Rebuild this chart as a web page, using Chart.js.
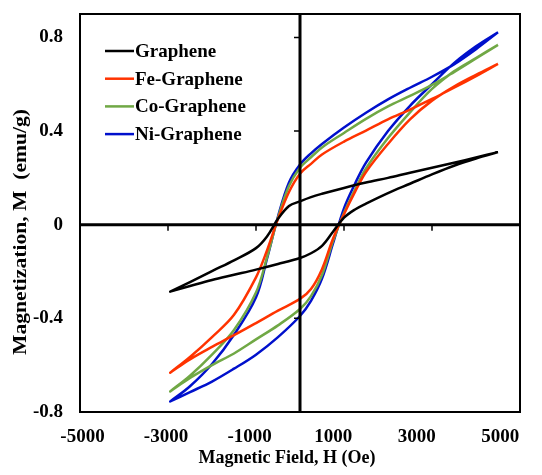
<!DOCTYPE html>
<html>
<head>
<meta charset="utf-8">
<script src="https://cdn.jsdelivr.net/npm/chart.js@4.4.1/dist/chart.umd.min.js"></script>
<style>
  html, body { margin: 0; padding: 0; background: #ffffff; }
  canvas { display: block; }
</style>
</head>
<body>
<canvas id="loopChart" width="542" height="475"></canvas>
<script>
// Field sweep (Oe): down branch from +4500 to -2950, then back up
const fieldDown = [4500, 4000, 3500, 3000, 2500, 2000, 1500, 1000, 500, 250, 0, -250, -500, -750, -1000, -1500, -2000, -2500, -2950];
const fieldUp = [-2950, -2500, -2000, -1500, -1000, -500, 0, 250, 500, 750, 1000, 1250, 1500, 2000, 2500, 3000, 3500, 4000, 4500];

// Magnetization (emu/g)
const grDown = [0.31, 0.287, 0.265, 0.243, 0.222, 0.2, 0.18, 0.157, 0.132, 0.118, 0.1, 0.08, 0.025, -0.05, -0.1, -0.152, -0.198, -0.245, -0.286];
const grUp = [-0.286, -0.262, -0.236, -0.214, -0.192, -0.168, -0.142, -0.122, -0.09, -0.03, 0.03, 0.065, 0.09, 0.135, 0.175, 0.215, 0.252, 0.283, 0.31];

const feDown = [0.687, 0.635, 0.585, 0.537, 0.492, 0.45, 0.402, 0.355, 0.3, 0.26, 0.218, 0.14, 0.025, -0.11, -0.225, -0.385, -0.48, -0.565, -0.632];
const feUp = [-0.632, -0.575, -0.522, -0.472, -0.42, -0.367, -0.317, -0.275, -0.19, -0.06, 0.045, 0.14, 0.225, 0.345, 0.45, 0.53, 0.59, 0.64, 0.687];

const coDown = [0.768, 0.71, 0.652, 0.597, 0.55, 0.505, 0.452, 0.392, 0.33, 0.288, 0.243, 0.165, 0.03, -0.14, -0.29, -0.45, -0.555, -0.645, -0.712];
const coUp = [-0.712, -0.655, -0.6, -0.55, -0.49, -0.43, -0.36, -0.305, -0.215, -0.07, 0.05, 0.15, 0.24, 0.37, 0.48, 0.58, 0.655, 0.712, 0.768];

const niDown = [0.822, 0.75, 0.685, 0.632, 0.585, 0.535, 0.478, 0.415, 0.345, 0.305, 0.257, 0.18, 0.035, -0.145, -0.31, -0.47, -0.595, -0.69, -0.755];
const niUp = [-0.755, -0.715, -0.67, -0.615, -0.555, -0.48, -0.39, -0.325, -0.23, -0.08, 0.07, 0.175, 0.265, 0.4, 0.508, 0.6, 0.69, 0.762, 0.822];

const seriesNames = ['Graphene', 'Fe-Graphene', 'Co-Graphene', 'Ni-Graphene'];
const seriesColors = ['#000000', '#ff3300', '#70a845', '#0010cc'];
const seriesDown = [grDown, feDown, coDown, niDown];
const seriesUp = [grUp, feUp, coUp, niUp];

// Axis ticks
const fieldLabels = [-5000, -3000, -1000, 1000, 3000, 5000];
const fieldMarks = [-3000, -1000, 1000, 3000];
const magTicks = [-0.8, -0.4, 0, 0.4, 0.8];

const FONT = '"Liberation Serif", "Times New Roman", serif';

function loopPoints(down, up) {
  const pts = fieldDown.map((h, i) => ({ x: h, y: down[i] }));
  return pts.concat(fieldUp.map((h, i) => ({ x: h, y: up[i] })));
}

const datasets = seriesNames.map((name, i) => ({
  label: name,
  data: loopPoints(seriesDown[i], seriesUp[i]),
  borderColor: seriesColors[i],
  backgroundColor: seriesColors[i],
  borderWidth: 2.5,
  borderJoinStyle: 'round',
  pointRadius: 0,
  tension: 0.35,
  fill: false
}));

// zero-crossing axes, frame, legend and axis titles, drawn like the Excel original
const decorPlugin = {
  id: 'decor',
  afterDatasetsDraw(chart) {
    const { ctx, chartArea: area, scales } = chart;
    const x0 = scales.x.getPixelForValue(0);
    const y0 = scales.y.getPixelForValue(0);
    ctx.save();
    ctx.strokeStyle = '#000000';
    ctx.lineWidth = 2;
    ctx.beginPath();
    ctx.rect(area.left, area.top, area.right - area.left, area.bottom - area.top);
    ctx.stroke();

    ctx.lineWidth = 3;
    ctx.beginPath();
    ctx.moveTo(area.left, y0);
    ctx.lineTo(area.right, y0);
    ctx.moveTo(x0, area.top);
    ctx.lineTo(x0, area.bottom);
    ctx.stroke();

    ctx.lineWidth = 1.5;
    ctx.beginPath();
    fieldMarks.forEach((v) => {
      const px = scales.x.getPixelForValue(v);
      ctx.moveTo(px, y0);
      ctx.lineTo(px, y0 + 6);
    });
    magTicks.forEach((v) => {
      if (v === 0) return;
      const py = scales.y.getPixelForValue(v);
      ctx.moveTo(x0 - 6, py);
      ctx.lineTo(x0, py);
    });
    ctx.stroke();

    // legend
    ctx.font = 'bold 19px ' + FONT;
    ctx.textBaseline = 'middle';
    ctx.textAlign = 'left';
    chart.data.datasets.forEach((ds, i) => {
      const ly = 51 + i * 27.7;
      ctx.strokeStyle = ds.borderColor;
      ctx.lineWidth = 2.5;
      ctx.beginPath();
      ctx.moveTo(105, ly);
      ctx.lineTo(134, ly);
      ctx.stroke();
      ctx.fillStyle = '#000';
      ctx.fillText(ds.label, 135, ly + 1);
    });

    // axis titles
    ctx.fillStyle = '#000';
    ctx.font = 'bold 18px ' + FONT;
    ctx.textAlign = 'center';
    ctx.fillText('Magnetic Field, H (Oe)', 287, 458);

    ctx.save();
    ctx.translate(21, 232);
    ctx.rotate(-Math.PI / 2);
    ctx.scale(1.2, 1);
    ctx.fillText('Magnetization, M  (emu/g)', 0, 0);
    ctx.restore();

    ctx.restore();
  }
};

new Chart(document.getElementById('loopChart'), {
  type: 'line',
  data: { datasets },
  options: {
    responsive: false,
    animation: false,
    devicePixelRatio: 1,
    layout: { padding: { top: 14, right: 22, left: 0, bottom: 0 } },
    plugins: { legend: { display: false }, tooltip: { enabled: false } },
    scales: {
      x: {
        type: 'linear',
        min: -5000,
        max: 5000,
        display: false
      },
      // label-only axis: the source prints its field labels a little left of the marks
      xl: {
        type: 'linear',
        position: 'bottom',
        min: -5059,
        max: 5473,
        grid: { display: false, drawTicks: false },
        border: { display: false },
        afterBuildTicks: (scale) => { scale.ticks = fieldLabels.map((v) => ({ value: v })); },
        ticks: {
          color: '#000',
          padding: 14,
          maxRotation: 0,
          autoSkip: false,
          font: { family: FONT, size: 19, weight: 'bold' },
          callback: (v) => String(v)
        },
        afterFit: (scale) => {
          scale.height = 63;
          scale.paddingLeft = 0;
          scale.paddingRight = 0;
        }
      },
      y: {
        type: 'linear',
        min: -0.8,
        max: 0.9,
        grid: { display: false, drawTicks: false },
        border: { display: false },
        afterBuildTicks: (scale) => { scale.ticks = magTicks.map((v) => ({ value: v })); },
        ticks: {
          color: '#000',
          padding: 17,
          autoSkip: false,
          font: { family: FONT, size: 19, weight: 'bold' },
          callback: (v) => (v === 0 ? '0' : v.toFixed(1))
        },
        afterFit: (scale) => {
          scale.width = 80;
          scale.paddingTop = 0;
          scale.paddingBottom = 0;
        }
      }
    }
  },
  plugins: [decorPlugin]
});
</script>
</body>
</html>
